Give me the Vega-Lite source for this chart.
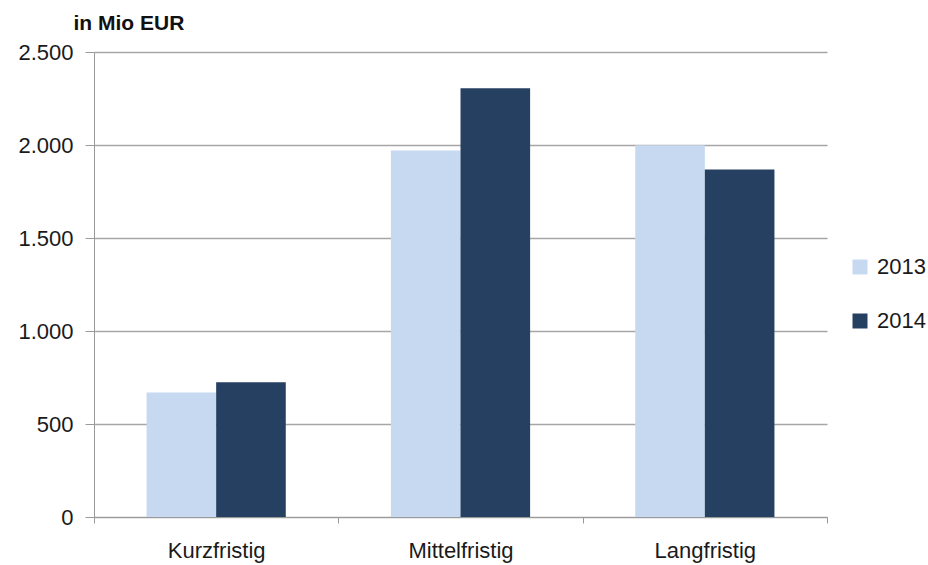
{
  "$schema": "https://vega.github.io/schema/vega-lite/v6.json",
  "width": 733,
  "height": 465,
  "autosize": {"type": "none"},
  "padding": {"left": 94, "top": 52, "right": 101, "bottom": 48},
  "background": "white",
  "data": {
    "values": [
      {"Laufzeit": "Kurzfristig", "Jahr": "2013", "Wert": 670},
      {"Laufzeit": "Kurzfristig", "Jahr": "2014", "Wert": 724},
      {"Laufzeit": "Mittelfristig", "Jahr": "2013", "Wert": 1971},
      {"Laufzeit": "Mittelfristig", "Jahr": "2014", "Wert": 2305},
      {"Laufzeit": "Langfristig", "Jahr": "2013", "Wert": 1998},
      {"Laufzeit": "Langfristig", "Jahr": "2014", "Wert": 1868}
    ]
  },
  "mark": {"type": "bar", "stroke": null},
  "encoding": {
    "x": {
      "field": "Laufzeit",
      "type": "nominal",
      "sort": ["Kurzfristig", "Mittelfristig", "Langfristig"],
      "scale": {"paddingInner": 0, "paddingOuter": 0},
      "axis": {
        "title": null,
        "labelAngle": 0,
        "labelFont": "Liberation Sans",
        "labelFontSize": 22,
        "labelColor": "#1a1a1a",
        "labelPadding": 17,
        "tickBand": "extent",
        "tickSize": 6,
        "tickColor": "#9a9a9a",
        "domainColor": "#9a9a9a",
        "grid": false
      }
    },
    "xOffset": {
      "field": "Jahr",
      "type": "nominal",
      "scale": {"paddingInner": 0, "paddingOuter": 0.755}
    },
    "y": {
      "field": "Wert",
      "type": "quantitative",
      "scale": {"domain": [0, 2500]},
      "axis": {
        "values": [0, 500, 1000, 1500, 2000, 2500],
        "labelExpr": "replace(format(datum.value, ','), ',', '.')",
        "labelFont": "Liberation Sans",
        "labelFontSize": 22,
        "labelColor": "#1a1a1a",
        "labelPadding": 12,
        "tickSize": 9,
        "tickColor": "#9a9a9a",
        "domainColor": "#9a9a9a",
        "gridColor": "#a6a6a6",
        "gridWidth": 1.3,
        "title": "in Mio EUR",
        "titleAngle": 0,
        "titleAlign": "left",
        "titleBaseline": "alphabetic",
        "titleX": -21,
        "titleY": -23,
        "titleFont": "Liberation Sans",
        "titleFontSize": 21,
        "titleFontWeight": "bold",
        "titleColor": "#111111"
      }
    },
    "color": {
      "field": "Jahr",
      "type": "nominal",
      "scale": {"domain": ["2013", "2014"], "range": ["#c6d9f1", "#254061"]},
      "legend": {
        "title": null,
        "orient": "none",
        "legendX": 755,
        "legendY": 204,
        "symbolType": "square",
        "symbolSize": 225,
        "symbolStrokeWidth": 0,
        "symbolOpacity": 1,
        "labelFont": "Liberation Sans",
        "labelFontSize": 22,
        "labelColor": "#1a1a1a",
        "labelOffset": 6,
        "rowPadding": 32
      }
    }
  },
  "config": {"view": {"stroke": null}}
}
